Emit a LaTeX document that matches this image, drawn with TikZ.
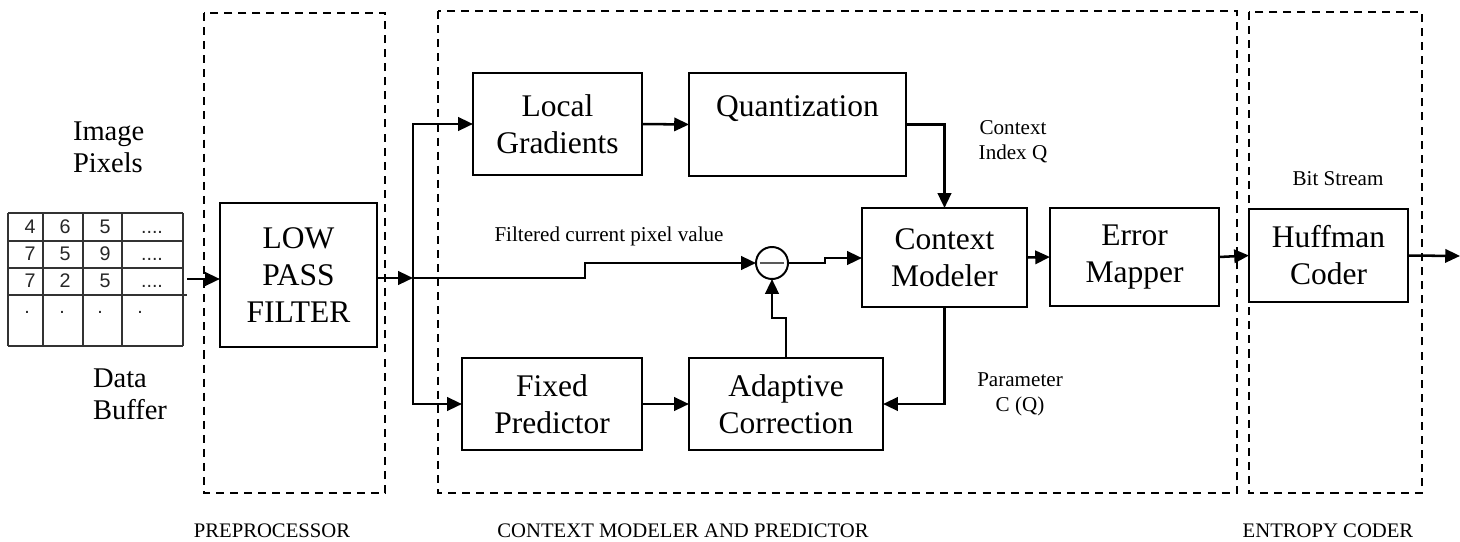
\documentclass[tikz,border=0pt]{standalone}
\usepackage{fontspec}
\setmainfont{Liberation Serif}
\newfontfamily\tablefont{Liberation Sans}
\usetikzlibrary{arrows.meta, positioning}

\begin{document}
\begin{tikzpicture}[
    x=0.025cm, y=-0.025cm,
    every node/.style={inner sep=0pt, outer sep=0pt},
    block/.style={rectangle, draw=black, line width=1.9pt, fill=white, align=center, font=\fontsize{22.4}{26.3}\selectfont},
    groupbox/.style={draw=black, line width=1.4pt, dash pattern=on 5.7pt off 4.3pt},
    arr/.style={line width=1.8pt, -{Triangle[length=10.5pt, width=9.5pt]}},
    tableline/.style={draw=black!80, line width=1pt},
    cell/.style={font=\tablefont\fontsize{14}{16}\selectfont, anchor=base, text=black!85},
    smalllabel/.style={font=\fontsize{15}{17.5}\selectfont, align=center},
    grouplabel/.style={font=\fontsize{14.7}{17}\selectfont},
    sidelabel/.style={font=\fontsize{20.3}{22.5}\selectfont, align=left, anchor=west},
]
\useasboundingbox (0,0) rectangle (1460,541);

% groups
\draw[groupbox] (204,13) rectangle (385,493);
\draw[groupbox] (438,11) rectangle (1237,493);
\draw[groupbox] (1249,12) rectangle (1422,493);
\node[grouplabel] (preLabel) at (272,531) {PREPROCESSOR};
\node[grouplabel] (ctxLabel) at (683,531) {CONTEXT MODELER AND PREDICTOR};
\node[grouplabel] (entLabel) at (1328,531) {ENTROPY CODER};

% data buffer
\foreach \x in {8,43,83,122,183} \draw[tableline] (\x,213) -- (\x,346);
\foreach \y in {213,241,268,346} \draw[tableline] (8,\y) -- (183,\y);
\draw[tableline] (8,295) -- (187,295);
\foreach \y/\a/\b/\c [count=\r] in {233/4/6/5, 260/7/5/9, 287/7/2/5} {
    \node[cell] (r\r c1) at (30,\y) {\a};
    \node[cell] (r\r c2) at (65,\y) {\b};
    \node[cell] (r\r c3) at (105,\y) {\c};
    \node[cell] (r\r c4) at (152,\y) {....};
}
\foreach \x [count=\i] in {27,62,100,140} \node[cell] (dot\i) at (\x,313) {.};
\node[sidelabel] (pixLabel) at (73,147.5) {Image\\Pixels};
\node[sidelabel] (bufLabel) at (93,394) {Data\\Buffer};

% blocks
\node[block, minimum width=3.925cm, minimum height=3.6cm] (lpf) at (298.5,275) {LOW\\PASS\\FILTER};
\node[block, minimum width=4.225cm, minimum height=2.55cm] (lg) at (557.5,124) {Local\\Gradients};
\node[block, minimum width=5.425cm, minimum height=2.575cm] (quant) at (797.5,124.5) {Quantization\\~};
\node[block, minimum width=4.125cm, minimum height=2.475cm] (cm) at (944.5,257.5) {Context\\Modeler};
\node[block, minimum width=4.225cm, minimum height=2.45cm] (em) at (1134.5,257) {Error\\Mapper};
\node[block, minimum width=3.975cm, minimum height=2.325cm] (hc) at (1328.5,255.5) {Huffman\\Coder};
\node[block, minimum width=4.5cm, minimum height=2.3cm] (fp) at (552,404) {Fixed\\Predictor};
\node[block, minimum width=4.85cm, minimum height=2.3cm] (ac) at (786,404) {Adaptive\\Correction};
\node[circle, draw=black, line width=1.4pt, minimum size=0.8cm] (sub) at (772,263) {};
\draw[gray!70!black, line width=2pt] ([xshift=-0.3cm]sub.center) -- ([xshift=0.3cm]sub.center);

\node[smalllabel] (ctxIdx) at (1013,142) {Context\\Index Q};
\node[smalllabel] (param) at (1020,394.5) {Parameter\\C (Q)};
\node[smalllabel] (bits) at (1338,179) {Bit Stream};
\node[smalllabel] (filt) at (609,236) {Filtered current pixel value};

% connectors
\coordinate (tin) at (187,279);
\coordinate (split) at (413,278);
\coordinate (out) at (1460,256);
\draw[arr] (tin) -- (tin -| lpf.west);
\draw[arr] (lpf.east |- split) -- (split);
\draw[arr, rounded corners=0pt] (split) |- (lg.west);
\draw[arr] (split) |- (fp.west);
\draw[arr] (split) -- ++(172,0) |- (sub.west);
\draw[arr] (sub.east) -- (825,263) -- (825,258) -- (cm.west |- 0,258);
\draw[arr] (lg.east) -- (quant.west);
\draw[arr] (quant.east) -| (cm.north);
\draw[arr] (cm.east) -- (em.west);
\draw[arr] (em.east) -- (hc.west);
\draw[arr] (hc.east) -- (out);
\draw[arr] (fp.east) -- (ac.west);
\draw[arr] (cm.south) |- (ac.east);
\draw[arr] (ac.north) -- ++(0,-40) -| (sub.south);
\end{tikzpicture}
\end{document}
